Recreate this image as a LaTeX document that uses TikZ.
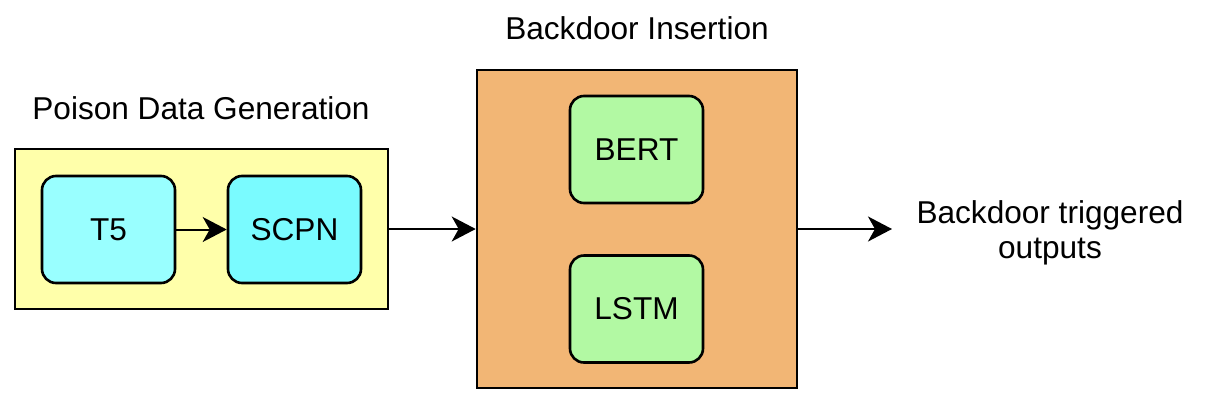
\documentclass[tikz,border=0pt]{standalone}
\usepackage{fontspec}
\setmainfont{Liberation Sans}
\usetikzlibrary{arrows.meta}
\definecolor{yel}{HTML}{FFFFAA}
\definecolor{cyanA}{HTML}{99FFFF}
\definecolor{cyanB}{HTML}{7AFBFF}
\definecolor{org}{HTML}{F2B675}
\definecolor{grn}{HTML}{B2F9A3}
\begin{document}
\begin{tikzpicture}[x=0.5pt,y=-0.5pt,
  txt/.style={font=\fontsize{15.8}{17.5}\selectfont},
  model/.style={draw, line width=1.3pt, rounded corners=7pt, minimum width=66.5pt, minimum height=53.5pt, inner sep=0pt, txt},
  frame/.style={draw, line width=1.3pt, inner sep=0pt},
  arr/.style={-{Stealth[length=12pt,width=12.5pt,inset=3.5pt]}, line width=1pt}]
\useasboundingbox (0,0) rectangle (1206,408);
% frames
\node[frame, fill=yel, minimum width=186.5pt, minimum height=80pt] (gen) at (201.5,229) {};
\node[frame, fill=org, minimum width=160pt, minimum height=159pt] (ins) at (637,229) {};
% titles
\node[txt] (gentitle) at (201,108) {Poison Data Generation};
\node[txt] (institle) at (637,28) {Backdoor Insertion};
% models
\node[model, fill=cyanA] (t5) at (108.5,229.5) {T5};
\node[model, fill=cyanB] (scpn) at (294.5,229.5) {SCPN};
\node[model, fill=grn] (bert) at (636.5,149.5) {BERT};
\node[model, fill=grn] (lstm) at (636.5,309) {LSTM};
% output
\node[txt, align=center] (out) at (1050,233) {Backdoor triggered\\outputs};
\coordinate (tip) at (892,229);
% connectors
\draw[arr] (t5) -- (scpn);
\draw[arr] (gen.east) -- (ins.west);
\draw[arr] (ins.east) -- (tip);
\end{tikzpicture}
\end{document}
